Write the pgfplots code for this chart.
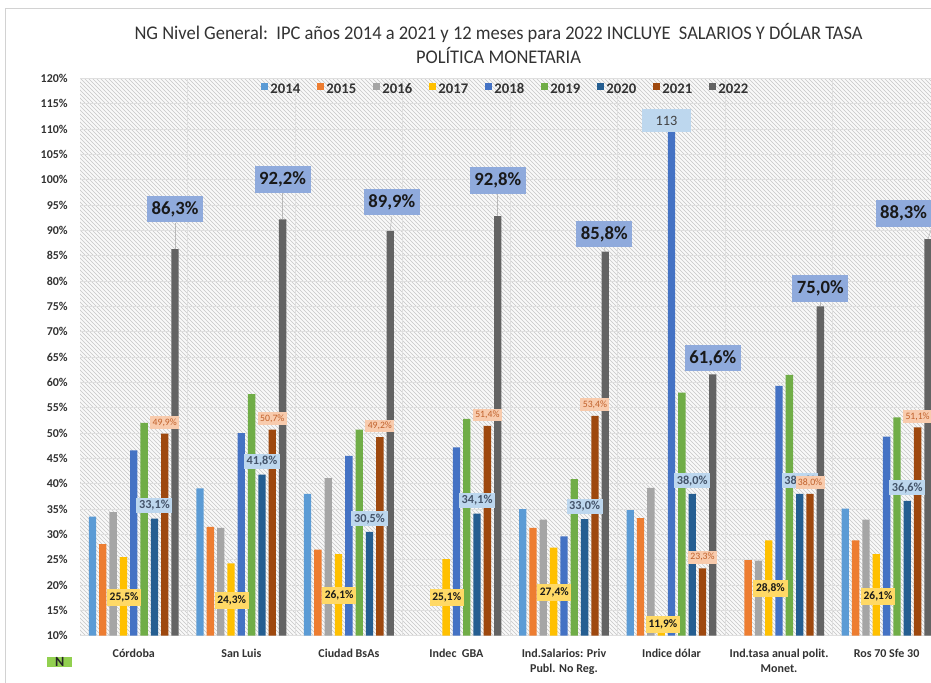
\documentclass[border=0pt]{standalone}
\usepackage{fontspec}
\setmainfont{Carlito}
\newfontfamily\titlefont{Carlito}[FakeStretch=0.955]
\usepackage{pgfplots}
\usepackage{pgfplotstable}
\pgfplotsset{compat=1.18}
\usetikzlibrary{patterns}

\definecolor{c14}{HTML}{5B9BD5}
\definecolor{c15}{HTML}{ED7D31}
\definecolor{c16}{HTML}{A5A5A5}
\definecolor{c17}{HTML}{FFC000}
\definecolor{c18}{HTML}{4472C4}
\definecolor{c19}{HTML}{70AD47}
\definecolor{c20}{HTML}{255E91}
\definecolor{c21}{HTML}{9E480E}
\definecolor{c22}{HTML}{636363}
\definecolor{l22}{HTML}{8FAADC}
\definecolor{l21}{HTML}{F8CBAD}
\definecolor{l21t}{HTML}{C0602A}
\definecolor{l20}{HTML}{BDD7EE}
\definecolor{l20t}{HTML}{44546A}
\definecolor{l17}{HTML}{FFD966}
\definecolor{ngreen}{HTML}{92D050}
\definecolor{txt}{HTML}{333333}

% IPC por indice (x = grupo)
\pgfplotstableread{
idx y2014 y2015 y2016 y2017 y2018 y2019 y2020 y2021 y2022
0   33.5  28.1  34.4  25.5  46.6  52.0  33.1  49.9  86.3
1   39.1  31.5  31.3  24.3  50.0  57.7  41.8  50.7  92.2
2   38.0  27.0  41.1  26.1  45.5  50.7  30.5  49.2  89.9
3   nan   nan   nan   25.1  47.2  52.8  34.1  51.4  92.8
4   35.0  31.3  32.9  27.4  29.6  40.9  33.0  53.4  85.8
5   34.8  33.2  39.2  11.9  113.6 58.0  38.0  23.3  61.6
6   nan   24.9  24.8  28.8  59.3  61.5  38.0  38.0  75.0
7   35.1  28.8  32.9  26.1  49.3  53.1  36.6  51.1  88.3
}\ipc

\tikzset{
  lab22/.style={fill=l22, text=black!90, font=\bfseries\fontsize{14}{14}\selectfont, inner xsep=3.5pt, inner ysep=0pt, minimum height=20pt},
  lab21/.style={fill=l21, text=l21t, font=\fontsize{7.3}{7.3}\selectfont, inner xsep=1.8pt, inner ysep=0pt, minimum height=9.5pt},
  lab20/.style={fill=l20, text=l20t, font=\bfseries\fontsize{9.2}{9.2}\selectfont, inner xsep=2pt, inner ysep=0pt, minimum height=11.25pt},
  lab17/.style={fill=l17, text=black!90, font=\bfseries\fontsize{8.6}{8.6}\selectfont, inner xsep=2pt, inner ysep=0pt, minimum height=12.75pt},
}
\pgfplotsset{
  sqleg/.style={legend image code/.code={\fill[##1] (0pt,-0.3pt) rectangle (5.2pt,4.9pt);}},
  pct/.style={nodes near coords={\pgfmathprintnumber[fixed,fixed zerofill,precision=1,use comma,assume math mode=true]{\pgfplotspointmeta}\%}},
}

\begin{document}
\begin{tikzpicture}
\useasboundingbox (0,0) rectangle (698.25pt,511.5pt);
\clip (0,0) rectangle (698.25pt,511.5pt);
\fill[white] (0,0) rectangle (698.25pt,511.5pt);
\draw[gray!35] (3.75pt,-10pt) -- (3.75pt,505.5pt) -- (720pt,505.5pt);

\node[text=txt, anchor=base, font=\titlefont\fontsize{14.5}{17}\selectfont] at (373.9pt,481.5pt)
  {NG Nivel General:\ \ IPC años 2014 a 2021 y 12 meses para 2022 INCLUYE\ \ SALARIOS Y DÓLAR TASA};
\node[text=txt, anchor=base, font=\titlefont\fontsize{14.5}{17}\selectfont] at (373.9pt,463.5pt) {POLÍTICA MONETARIA};

\node[fill=ngreen, text=black!85, font=\bfseries\fontsize{10.5}{10.5}\selectfont, minimum width=18.5pt, minimum height=7.5pt, inner sep=0pt] at (44.8pt,14.8pt) {N};

\begin{axis}[
  at={(60pt,34.7pt)}, anchor=south west,
  width=645.3pt, height=418pt, scale only axis,
  xmin=-0.5, xmax=7.5, ymin=10, ymax=120,
  ybar, bar width=0.068,
  xtick={0,...,7},
  xticklabels={Córdoba, San Luis, Ciudad BsAs, Indec~ GBA, {Ind.Salarios: Priv\\Publ. No Reg.}, Indice dólar, {Ind.tasa anual polit.\\Monet.}, Ros 70 Sfe 30},
  minor xtick={0.5,1.5,...,6.5}, xminorgrids,
  minor grid style={gray!25, line width=0.6pt},
  ytick={10,15,...,120}, ymajorgrids,
  major grid style={gray!25, line width=0.6pt},
  yticklabel={\pgfmathprintnumber{\tick}\%},
  /pgf/number format/assume math mode=true,
  major tick length=0pt, minor tick length=0pt,
  axis line style={draw=none},
  tick label style={font=\bfseries\fontsize{9}{11.25}\selectfont, text=txt},
  yticklabel style={inner sep=0pt, anchor=east, xshift=-9pt},
  xticklabel style={inner sep=0pt, anchor=north, yshift=-10pt, align=center},
  axis background/.style={fill=gray!5, postaction={pattern=north west lines, pattern color=gray!45}},
  legend columns=9,
  legend style={at={(0.495,0.98)}, anchor=center, draw=none, fill=none, inner sep=0pt,
    font=\bfseries\fontsize{11}{13}\selectfont, text=txt,
    /tikz/every even column/.append style={column sep=10.5pt}},
]
\addplot[fill=c14, draw=none, bar shift=-0.384, sqleg] table[x=idx,y=y2014] {\ipc};
\addplot[fill=c15, draw=none, bar shift=-0.288, sqleg] table[x=idx,y=y2015] {\ipc};
\addplot[fill=c16, draw=none, bar shift=-0.192, sqleg] table[x=idx,y=y2016] {\ipc};
\addplot[fill=c17, draw=none, bar shift=-0.096, sqleg] table[x=idx,y=y2017] {\ipc};
\addplot[fill=c18, draw=none, bar shift=0,      sqleg] table[x=idx,y=y2018] {\ipc};
\addplot[fill=c19, draw=none, bar shift=0.096,  sqleg] table[x=idx,y=y2019] {\ipc};
\addplot[fill=c20, draw=none, bar shift=0.192,  sqleg] table[x=idx,y=y2020] {\ipc};
\addplot[fill=c21, draw=none, bar shift=0.288,  sqleg] table[x=idx,y=y2021] {\ipc};
\addplot[fill=c22, draw=none, bar shift=0.384,  sqleg] table[x=idx,y=y2022] {\ipc};
\legend{2014,2015,2016,2017,2018,2019,2020,2021,2022}

% etiquetas 2020 y 2021 encima de las barras
\addplot[draw=none, fill=none, bar shift=0.192, forget plot, pct, point meta=y,
  every node near coord/.append style={lab20, anchor=center, yshift=9.9pt}] table[x=idx,y=y2020] {\ipc};
\addplot[draw=none, fill=none, bar shift=0.288, forget plot, pct, point meta=y,
  every node near coord/.append style={lab21, anchor=center, yshift=8.3pt}] table[x=idx,y=y2021] {\ipc};

% etiquetas 2017
\node[lab17] at (axis cs:-0.09,17.5) {25,5\%};
\node[lab17] at (axis cs:0.91,16.9) {24,3\%};
\node[lab17] at (axis cs:1.91,17.9) {26,1\%};
\node[lab17] at (axis cs:2.91,17.5) {25,1\%};
\node[lab17] at (axis cs:3.91,18.6) {27,4\%};
\node[lab17] at (axis cs:4.92,12.3) {11,9\%};
\node[lab17] at (axis cs:5.92,19.4) {28,8\%};
\node[lab17] at (axis cs:6.92,17.8) {26,1\%};

% etiqueta 2018 dolar
\node[fill=l20, text=black!75, font=\fontsize{10.7}{10.7}\selectfont, minimum width=36.75pt, minimum height=17.25pt, inner sep=0pt] at (axis cs:4.954,111.6) {113};

% etiquetas 2022 con lineas guia
\node[lab22] (a0) at (axis cs:0.384,94.2) {86,3\%};
\node[lab22] (a1) at (axis cs:1.384,100.1) {92,2\%};
\node[lab22] (a2) at (axis cs:2.40,95.6) {89,9\%};
\node[lab22] (a3) at (axis cs:3.384,99.9) {92,8\%};
\node[lab22] (a4) at (axis cs:4.375,89.3) {85,8\%};
\node[lab22] (a5) at (axis cs:5.384,64.8) {61,6\%};
\node[lab22] (a6) at (axis cs:6.384,78.5) {75,0\%};
\node[lab22] (a7) at (axis cs:7.158,93.3) {88,3\%};
\draw[gray!55] (axis cs:0.384,86.3) -- (a0.south);
\draw[gray!55] (axis cs:1.384,92.2) -- (a1.south);
\draw[gray!55] (axis cs:2.384,89.9) -- (a2.south);
\draw[gray!55] (axis cs:3.384,92.8) -- (a3.south);
\draw[gray!55] (axis cs:4.384,85.8) -- (a4.south);
\draw[gray!55] (axis cs:6.384,75.0) -- (a6.south);
\draw[gray!55] (axis cs:7.384,88.3) -- (a7.south east);
\end{axis}
\end{tikzpicture}
\end{document}
